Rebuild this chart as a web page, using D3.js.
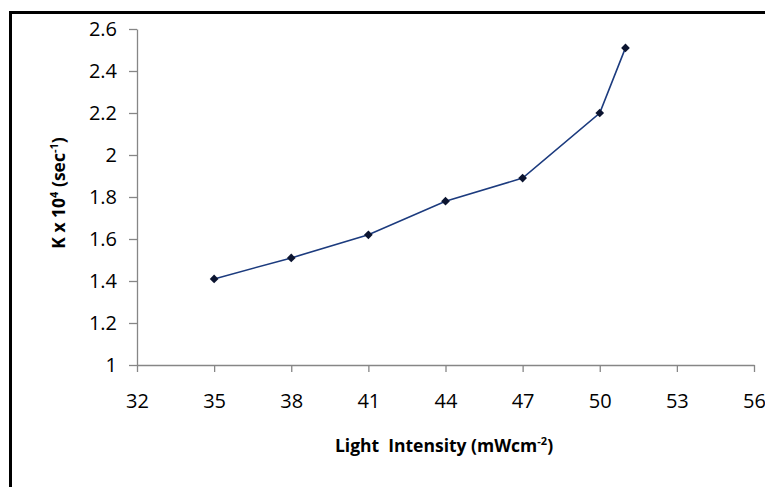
<!DOCTYPE html>
<html>
<head>
<meta charset="utf-8">
<script src="https://cdn.jsdelivr.net/npm/d3@7"></script>
<style>
  html, body { margin: 0; padding: 0; background: #fff; }
  svg { display: block; }
</style>
</head>
<body>
<svg id="chart" width="765" height="487"></svg>
<script>
const intensity = [35, 38, 41, 44, 47, 50, 51];
const kValues = [1.41, 1.51, 1.62, 1.78, 1.89, 2.20, 2.51];
const xTicks = [32, 35, 38, 41, 44, 47, 50, 53, 56];
const yTicks = [1, 1.2, 1.4, 1.6, 1.8, 2, 2.2, 2.4, 2.6];

(function () {
const svg = d3.select("#chart");
const W = 765, H = 487;
const mLeft = 137, mRight = 754, mTop = 29, mBottom = 365;

// outer frame (only top and left edges visible)
svg.append("rect")
  .attr("x", 10.5).attr("y", 12.5)
  .attr("width", W + 20).attr("height", H + 20)
  .attr("fill", "none").attr("stroke", "#000").attr("stroke-width", 3);

const x = d3.scaleLinear().domain([32, 56]).range([mLeft, mRight]);
const y = d3.scaleLinear().domain([1, 2.6]).range([mBottom, mTop]);

const font = "'Open Sans', Lato, sans-serif";
const axisColor = "#868686";

const xAxis = svg.append("g")
  .attr("transform", `translate(0,${mBottom})`)
  .call(d3.axisBottom(x).tickValues(xTicks).tickSize(7).tickPadding(22).tickSizeOuter(0)
    .tickFormat(d3.format("d")));
const yAxis = svg.append("g")
  .attr("transform", `translate(${mLeft},0)`)
  .call(d3.axisLeft(y).tickValues(yTicks).tickSize(8).tickPadding(12).tickSizeOuter(0)
    .tickFormat(d => d3.format("~g")(d)));

[xAxis, yAxis].forEach(g => {
  g.select(".domain").attr("stroke", axisColor).attr("stroke-width", 1.3);
  g.selectAll(".tick line").attr("stroke", axisColor).attr("stroke-width", 1.3);
  g.selectAll(".tick text").attr("fill", "#000")
    .style("font-family", font).style("font-size", "20px");
});

const pts = intensity.map((v, i) => [v, kValues[i]]);

svg.append("path")
  .datum(pts)
  .attr("fill", "none")
  .attr("stroke", "#1c3b7e")
  .attr("stroke-width", 1.6)
  .attr("d", d3.line().x(d => x(d[0])).y(d => y(d[1])));

svg.append("g").selectAll("path")
  .data(pts)
  .join("path")
  .attr("transform", d => `translate(${x(d[0])},${y(d[1])}) rotate(45)`)
  .attr("d", d3.symbol().type(d3.symbolSquare).size(38))
  .attr("fill", "#0b1430");

// axis titles
const xt = svg.append("text")
  .attr("x", 444).attr("y", 452)
  .attr("text-anchor", "middle")
  .style("font-family", font).style("font-size", "17.5px").style("font-weight", "bold")
  .style("white-space", "pre");
xt.append("tspan").text("Light  Intensity (mWcm");
xt.append("tspan").attr("dy", -7).style("font-size", "11px").text("-2");
xt.append("tspan").attr("dy", 7).text(")");

const yt = svg.append("text")
  .attr("transform", "translate(65,193) rotate(-90)")
  .attr("text-anchor", "middle")
  .style("font-family", font).style("font-size", "17.5px").style("font-weight", "bold")
  .style("white-space", "pre");
yt.append("tspan").text("K x 10");
yt.append("tspan").attr("dy", -7).style("font-size", "11px").text("4");
yt.append("tspan").attr("dy", 7).text(" (sec");
yt.append("tspan").attr("dy", -7).style("font-size", "11px").text("-1");
yt.append("tspan").attr("dy", 7).text(")");
})();
</script>
</body>
</html>
